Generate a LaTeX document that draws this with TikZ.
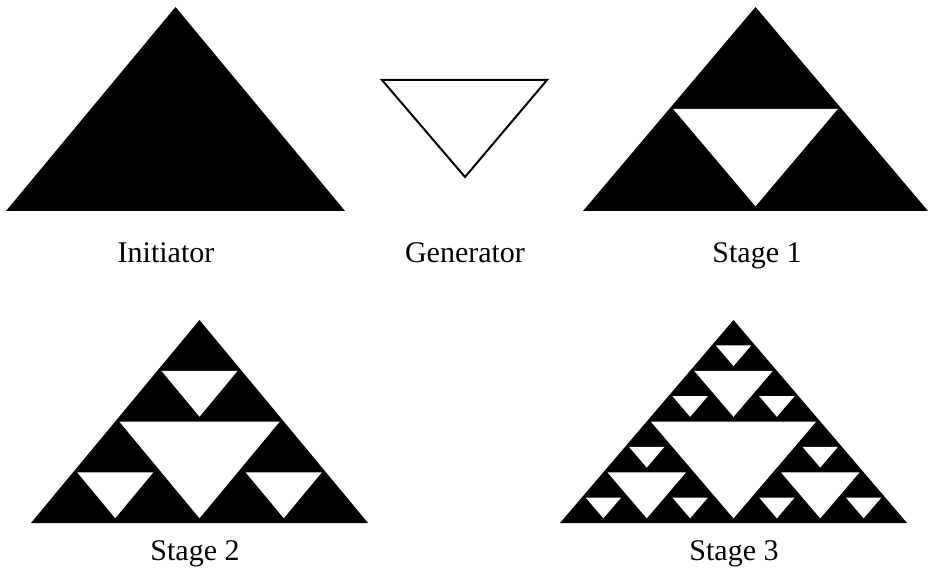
\documentclass[tikz,border=0pt]{standalone}
\usepackage{fontspec}
\setmainfont{Liberation Serif}
\tikzset{
  solid/.style={fill=black},
  hole/.style={fill=white},
  outline/.style={draw=black,line width=2pt,line join=miter},
  caption/.style={anchor=base,inner sep=0pt,font=\fontsize{30}{36}\selectfont}
}
% inset of each white hole from its neighbours, in pt
\def\holegap{4}
% Cut the white middle triangles out of a black triangle, recursively.
% #1 depth, #2 base-left x, #3 base y, #4 width, #5 height (y grows downward)
\newcommand\spholes[5]{%
  \ifnum#1>0\relax
  \begingroup
    \pgfmathsetmacro\hw{(#4)/2}%
    \pgfmathsetmacro\hh{(#5)/2}%
    \pgfmathsetmacro\xa{#2+(#4)/4}%
    \pgfmathsetmacro\xb{#2+3*(#4)/4}%
    \pgfmathsetmacro\xm{#2+(#4)/2}%
    \pgfmathsetmacro\ym{#3-(#5)/2}%
    \pgfmathsetmacro\ya{#3-2*\holegap*(#5)/(#4)}%
    \pgfmathtruncatemacro\dn{#1-1}%
    \fill[hole] ({\xa+\holegap},\ym) -- ({\xb-\holegap},\ym) -- (\xm,\ya) -- cycle;
    \edef\next{%
      \noexpand\spholes{\dn}{#2}{#3}{\hw}{\hh}%
      \noexpand\spholes{\dn}{\xm}{#3}{\hw}{\hh}%
      \noexpand\spholes{\dn}{\xa}{\ym}{\hw}{\hh}}%
    \next
  \endgroup
  \fi}
% Black triangle plus holes: #1 depth, #2 x, #3 base y, #4 width, #5 height
\newcommand\sptri[5]{%
  \fill[solid] (#2,#3) -- ({#2+(#4)},#3) -- ({#2+(#4)/2},{#3-(#5)}) -- cycle;
  \spholes{#1}{#2}{#3}{#4}{#5}}
\begin{document}
\begin{tikzpicture}[x=1pt,y=-1pt]
  \useasboundingbox (0,0) rectangle (928,569);
  % initiator
  \sptri{0}{6}{211}{339}{204}
  % generator
  \coordinate (g1) at (382,80);
  \coordinate (g2) at (547,80);
  \coordinate (g3) at (465,177);
  \draw[outline] (g1) -- (g2) -- (g3) -- cycle;
  % stages
  \sptri{1}{583}{211}{345}{204}
  \sptri{2}{31}{523}{337}{203}
  \sptri{3}{560}{523}{347}{203}
  % captions
  \node[caption] (cInit) at (166,262) {Initiator};
  \node[caption] (cGen) at (465,262) {Generator};
  \node[caption] (cS1) at (757,262) {Stage 1};
  \node[caption] (cS2) at (195,560) {Stage 2};
  \node[caption] (cS3) at (734,560) {Stage 3};
\end{tikzpicture}
\end{document}
